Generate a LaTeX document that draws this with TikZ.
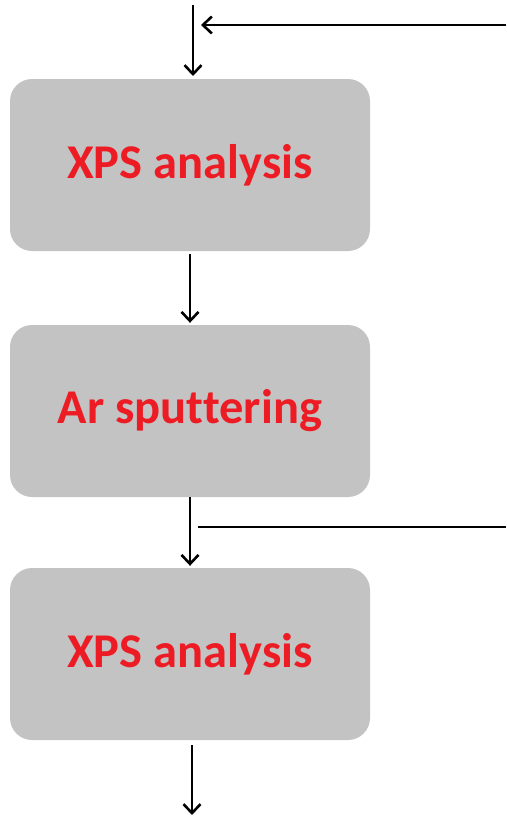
\documentclass[tikz,border=0pt]{standalone}
\usepackage{fontspec}
\setmainfont[Ligatures={NoCommon}]{Carlito}
\usetikzlibrary{arrows.meta}
\definecolor{boxgray}{HTML}{C3C3C3}
\definecolor{labelred}{HTML}{ED1C24}
\tikzset{
  stepbox/.style={fill=boxgray, draw=none, rounded corners=22pt,
    minimum width=360pt, minimum height=172pt, inner sep=0pt,
    text=labelred, font=\fontsize{48.5}{56}\selectfont\bfseries},
  flow/.style={line width=2.6pt, -{Straight Barb[length=9pt,width=17pt,line width=2.6pt]}},
  feed/.style={line width=2.6pt}
}
\begin{document}
\begin{tikzpicture}[x=1pt,y=-1pt]
  \useasboundingbox (0,0) rectangle (506,816);
  % process steps
  \node[stepbox] (b1) at (190,165) {XPS analysis};
  \node[stepbox] (b2) at (190,411) {Ar sputtering};
  \node[stepbox] (b3) at (190,654) {XPS analysis};
  % entry and exit points
  \coordinate (in) at (193,5);
  \coordinate (inend) at (193,76);
  \coordinate (out) at (192,815);
  \coordinate (outstart) at (192,745);
  \coordinate (loopstart) at (506,25);
  \coordinate (loopend) at (201,25);
  \coordinate (branchstart) at (198,527);
  \coordinate (branchend) at (506,527);
  % connectors
  \draw[flow] (in) -- (inend);
  \draw[flow, shorten <=3pt, shorten >=2pt] (b1.south) -- (b2.north);
  \draw[flow, shorten >=2pt] (b2.south) -- (b3.north);
  \draw[flow] (outstart) -- (out);
  \draw[flow] (loopstart) -- (loopend);
  \draw[feed] (branchstart) -- (branchend);
\end{tikzpicture}
\end{document}
